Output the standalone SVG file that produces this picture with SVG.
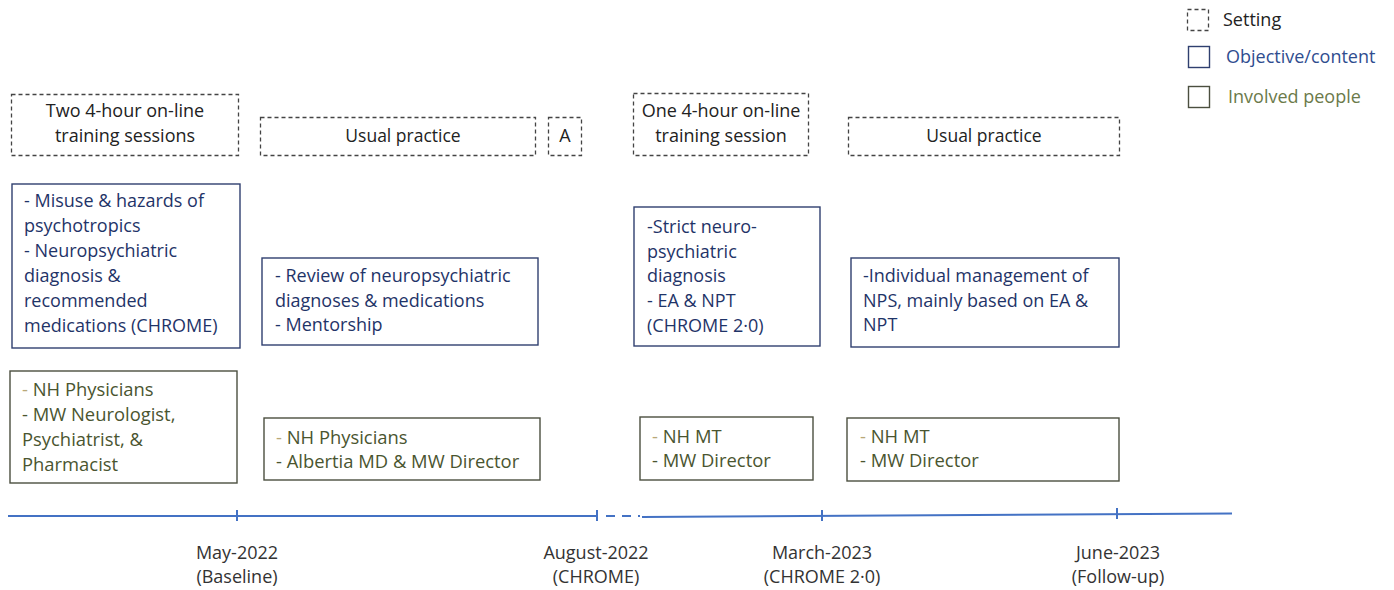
<svg xmlns="http://www.w3.org/2000/svg" width="1394" height="590" viewBox="0 0 1394 590">
<style>
text{font-family:"Open Sans","Liberation Sans",sans-serif;font-size:18px}
.set{fill:none;stroke:#444;stroke-width:1.3;stroke-dasharray:4,3}
.obj{fill:#fff;stroke:#2f3f6f;stroke-width:1.4}
.ppl{fill:#fff;stroke:#4b4f3f;stroke-width:1.4}
.st{fill:#222;text-anchor:middle}
.up{font-size:17.5px}
.ot{fill:#1f3468}
.pt{fill:#4a5530;font-size:18.4px}
.dash{fill:#b9a878}
.tl{stroke:#4472c4;stroke-width:2;fill:none}
.lb{fill:#333;text-anchor:middle}
</style>
<rect width="1394" height="590" fill="#fff"/>
<g id="legend">
<rect class="set" x="1187.5" y="9.5" width="21" height="21"/>
<text x="1223" y="26" fill="#222">Setting</text>
<rect class="obj" x="1188.5" y="46.5" width="21" height="21" fill="none"/>
<text x="1226" y="63" fill="#2f4d8f">Objective/content</text>
<rect class="ppl" x="1188.5" y="86.5" width="21" height="21" stroke="#6b7360"/>
<text x="1228" y="103" fill="#6b7a4a">Involved people</text>
</g>
<g id="setting1"><rect class="set" x="11.5" y="94.5" width="227" height="61"/>
<text class="st" x="125" y="117">Two 4-hour on-line</text><text class="st" x="125" y="142">training sessions</text></g>
<g id="setting2"><rect class="set" x="260.5" y="117.5" width="275" height="38"/>
<text class="st up" x="403" y="142">Usual practice</text></g>
<g id="setting3"><rect class="set" x="548.5" y="117.5" width="33" height="38"/>
<text class="st" x="565" y="142">A</text></g>
<g id="setting4"><rect class="set" x="633.5" y="93.5" width="175" height="62"/>
<text class="st" x="721" y="117">One 4-hour on-line</text><text class="st" x="721" y="142">training session</text></g>
<g id="setting5"><rect class="set" x="848.5" y="117.5" width="271" height="38"/>
<text class="st up" x="984" y="142">Usual practice</text></g>

<g id="obj1"><rect class="obj" x="12" y="184" width="228" height="164"/>
<text class="ot" x="24" y="207">- Misuse &amp; hazards of</text>
<text class="ot" x="24" y="232">psychotropics</text>
<text class="ot" x="24" y="257">- Neuropsychiatric</text>
<text class="ot" x="24" y="282">diagnosis &amp;</text>
<text class="ot" x="24" y="307">recommended</text>
<text class="ot" x="24" y="332">medications (CHROME)</text></g>
<g id="obj2"><rect class="obj" x="262" y="258" width="276" height="87"/>
<text class="ot" x="275" y="282">- Review of neuropsychiatric</text>
<text class="ot" x="275" y="307">diagnoses &amp; medications</text>
<text class="ot" x="275" y="331">- Mentorship</text></g>
<g id="obj3"><rect class="obj" x="634" y="207" width="186" height="139"/>
<text class="ot" x="647" y="233">-Strict neuro-</text>
<text class="ot" x="647" y="258">psychiatric</text>
<text class="ot" x="647" y="282">diagnosis</text>
<text class="ot" x="647" y="307">- EA &amp; NPT</text>
<text class="ot" x="647" y="332">(CHROME 2·0)</text></g>
<g id="obj4"><rect class="obj" x="851" y="258" width="268" height="89"/>
<text class="ot" x="863" y="282">-Individual management of</text>
<text class="ot" x="863" y="307">NPS, mainly based on EA &amp;</text>
<text class="ot" x="863" y="331">NPT</text></g>

<g id="ppl1"><rect class="ppl" x="10" y="371" width="227" height="112"/>
<text class="pt" x="22" y="396"><tspan class="dash">-</tspan> NH Physicians</text>
<text class="pt" x="22" y="421">- MW Neurologist,</text>
<text class="pt" x="22" y="446">Psychiatrist, &amp;</text>
<text class="pt" x="22" y="471">Pharmacist</text></g>
<g id="ppl2"><rect class="ppl" x="264" y="418" width="276" height="62"/>
<text class="pt" x="276" y="444"><tspan class="dash">-</tspan> NH Physicians</text>
<text class="pt" x="276" y="468">- Albertia MD &amp; MW Director</text></g>
<g id="ppl3"><rect class="ppl" x="640" y="417" width="173" height="63"/>
<text class="pt" x="652" y="443"><tspan class="dash">-</tspan> NH MT</text>
<text class="pt" x="652" y="467">- MW Director</text></g>
<g id="ppl4"><rect class="ppl" x="847" y="418" width="272" height="63"/>
<text class="pt" x="860" y="443"><tspan class="dash">-</tspan> NH MT</text>
<text class="pt" x="860" y="467">- MW Director</text></g>

<g id="connectors">
<line class="tl" x1="8" y1="516" x2="597" y2="516"/>
<line class="tl" x1="237" y1="510" x2="237" y2="521"/>
<line class="tl" x1="597" y1="510" x2="597" y2="521"/>
<line class="tl" x1="606" y1="516" x2="640" y2="516" stroke-dasharray="9,7"/>
<line class="tl" x1="642" y1="517" x2="1232" y2="513.5"/>
<line class="tl" x1="822" y1="510" x2="822" y2="521"/>
<line class="tl" x1="1117" y1="508" x2="1117" y2="519"/>
</g>
<g id="labels">
<text class="lb" x="237" y="559">May-2022</text><text class="lb" x="237" y="583">(Baseline)</text>
<text class="lb" x="596" y="559">August-2022</text><text class="lb" x="596" y="583">(CHROME)</text>
<text class="lb" x="822" y="559">March-2023</text><text class="lb" x="822" y="583">(CHROME 2·0)</text>
<text class="lb" x="1118" y="559">June-2023</text><text class="lb" x="1118" y="583">(Follow-up)</text>
</g>
</svg>
